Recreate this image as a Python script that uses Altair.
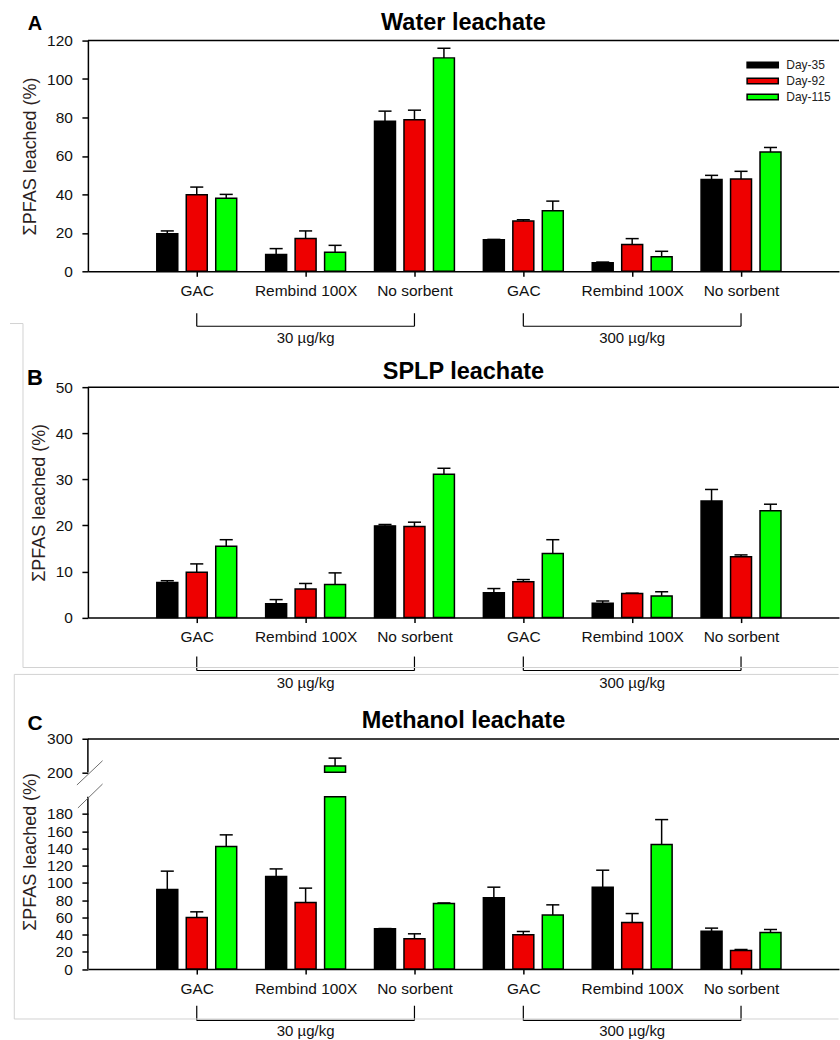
import altair as alt
import pandas as pd

# ---------------------------------------------------------------- data
sorbents = ["GAC", "Rembind 100X", "No sorbent", "GAC", "Rembind 100X", "No sorbent"]
doses = ["30 µg/kg", "300 µg/kg"]
dose_first = [1, 4]   # first sorbent position of each dose group
dose_last = [3, 6]    # last sorbent position of each dose group
days = ["Day-35", "Day-92", "Day-115"]
day_colors = ["#000000", "#ee0000", "#00ff00"]

water_mean = {
    "Day-35": [19.5, 8.7, 78.0, 16.4, 4.5, 47.8],
    "Day-92": [39.8, 17.0, 78.8, 26.1, 14.0, 48.0],
    "Day-115": [38.0, 9.9, 111.0, 31.5, 7.6, 62.0],
}
water_err = {
    "Day-35": [1.5, 3.1, 5.3, 0.2, 0.3, 2.1],
    "Day-92": [4.0, 4.0, 5.0, 0.7, 3.0, 4.0],
    "Day-115": [2.0, 3.6, 5.0, 5.0, 2.8, 2.4],
}

splp_mean = {
    "Day-35": [7.6, 3.0, 19.9, 5.4, 3.1, 25.3],
    "Day-92": [9.85, 6.2, 19.75, 7.75, 5.2, 13.2],
    "Day-115": [15.5, 7.2, 31.1, 13.9, 4.7, 23.2],
}
splp_err = {
    "Day-35": [0.4, 0.9, 0.3, 0.9, 0.5, 2.5],
    "Day-92": [1.8, 1.2, 0.95, 0.5, 0.1, 0.4],
    "Day-115": [1.4, 2.5, 1.3, 3.0, 0.9, 1.4],
}

methanol_mean = {
    "Day-35": [92.3, 107.3, 46.7, 82.6, 95.0, 44.0],
    "Day-92": [59.8, 77.2, 35.1, 39.8, 54.0, 21.6],
    "Day-115": [142.1, 219.0, 76.0, 62.6, 144.4, 42.4],
}
methanol_err = {
    "Day-35": [21.3, 8.9, 0.3, 12.4, 19.7, 3.5],
    "Day-92": [6.6, 16.7, 5.8, 3.8, 10.4, 1.1],
    "Day-115": [13.6, 23.6, 0.7, 11.9, 29.0, 3.5],
}

water_ticks = [0, 20, 40, 60, 80, 100, 120]
splp_ticks = [0, 10, 20, 30, 40, 50]
methanol_break = 200          # methanol axis is broken above this value
methanol_top = 300
methanol_ticks = [0, 20, 40, 60, 80, 100, 120, 140, 160, 180, 200.001, 300]

# ---------------------------------------------------------------- layout
FONT = "Liberation Sans"
W = 752                 # plot width (px)
X_MAX = 6.9             # x domain [0, X_MAX]; sorbents sit at 1..6
BAR_STEP = 0.2707       # distance between bars in a group (x units)
BAR_HALF = 0.0963       # half bar width (x units)
CAP_HALF = 0.06         # half error-cap width (x units)
H_A, H_B, H_C = 231, 230.7, 235.6
GAP = 116
Y_TITLE = "ΣPFAS leached (%)"

ONE = pd.DataFrame({"k": [0]})
x_scale = alt.Scale(domain=[0, X_MAX], nice=False, zero=False)
names_js = "[" + ",".join("'%s'" % s for s in sorbents) + "]"

X_AXIS = alt.Axis(values=list(range(1, 7)), labelExpr=f"{names_js}[datum.value - 1]",
                  title=None)


def table(means, errs):
    rows = []
    for k, day in enumerate(days):
        for i, (m, e) in enumerate(zip(means[day], errs[day])):
            xc = i + 1 + (k - 1) * BAR_STEP
            rows.append({"day": day, "mean": m, "top": m + e, "xc": xc,
                         "x0": xc - BAR_HALF, "x1": xc + BAR_HALF,
                         "c0": xc - CAP_HALF, "c1": xc + CAP_HALF})
    return pd.DataFrame(rows)


class Panel:
    """Shared scales/axes for every layer of one panel."""

    def __init__(self, y_scale, y_axis_obj):
        self.ys = y_scale
        self.ya = y_axis_obj

    def X(self, field):
        return alt.X(field, type="quantitative", scale=x_scale, axis=X_AXIS)

    def Y(self, field):
        return alt.Y(field, type="quantitative", scale=self.ys, axis=self.ya)

    def bars(self, df, y="mean", base="base", legend=None):
        return alt.Chart(df).mark_rect(stroke="black", strokeWidth=1.5).encode(
            x=self.X("x0"), x2="x1:Q", y=self.Y(y), y2=f"{base}:Q",
            color=alt.Color("day:N", scale=alt.Scale(domain=days, range=day_colors),
                            legend=legend),
        )

    def error_bars(self, df):
        stem = alt.Chart(df).mark_rule(color="black", strokeWidth=1.5).encode(
            x=self.X("xc"), y=self.Y("mean"), y2="top:Q")
        cap = alt.Chart(df).mark_rule(color="black", strokeWidth=1.5).encode(
            x=self.X("c0"), x2="c1:Q", y=self.Y("top"))
        return [stem, cap]

    def top_border(self, value):
        df = pd.DataFrame({"a": [0], "b": [X_MAX], "v": [value]})
        return alt.Chart(df).mark_rule(color="black", strokeWidth=1.5).encode(
            x=self.X("a"), x2="b:Q", y=self.Y("v"))

    def brackets(self, h, top, bottom, label_y):
        bdf = pd.DataFrame({"start": dose_first, "end": dose_last, "label": doses})
        bdf["mid"] = (bdf["start"] + bdf["end"]) / 2
        style = dict(color="black", strokeWidth=1.2)
        left = alt.Chart(bdf).mark_rule(**style).encode(
            x=self.X("start"), y=alt.value(h + top), y2=alt.value(h + bottom))
        right = alt.Chart(bdf).mark_rule(**style).encode(
            x=self.X("end"), y=alt.value(h + top), y2=alt.value(h + bottom))
        across = alt.Chart(bdf).mark_rule(**style).encode(
            x=self.X("start"), x2="end:Q", y=alt.value(h + bottom))
        text = alt.Chart(bdf).mark_text(font=FONT, fontSize=15, color="#111",
                                        baseline="middle", align="center").encode(
            x=self.X("mid"), y=alt.value(h + label_y), text="label:N")
        return [left, right, across, text]


def heading(title, letter, title_y, letter_y, letter_size):
    t = alt.Chart(ONE).mark_text(text=title, font=FONT, fontSize=23.5,
                                 fontWeight="bold", align="center",
                                 baseline="alphabetic", color="black").encode(
        x=alt.value(W / 2), y=alt.value(title_y))
    l = alt.Chart(ONE).mark_text(text=letter, font=FONT, fontSize=letter_size,
                                 fontWeight="bold", align="center",
                                 baseline="alphabetic", color="black").encode(
        x=alt.value(-53), y=alt.value(letter_y))
    return [t, l]


def frame_line(x, x2, y, y2):
    return alt.Chart(ONE).mark_rule(color="#d2d2d2", strokeWidth=1).encode(
        x=alt.value(x), x2=alt.value(x2), y=alt.value(y), y2=alt.value(y2))


# ---------------------------------------------------------------- panel A
wdf = table(water_mean, water_err)
wdf["base"] = 0
pa = Panel(alt.Scale(domain=[0, 120], nice=False, zero=False),
           alt.Axis(values=water_ticks, title=Y_TITLE))
legend_a = alt.Legend(
    title=None, orient="none", legendX=668.6, legendY=17.5, padding=0,
    symbolType="M-2.6,-0.46H2.6V0.46H-2.6Z", symbolSize=144,
    symbolStrokeColor="black", symbolStrokeWidth=1.5, symbolOpacity=1,
    labelFont=FONT, labelFontSize=12, labelColor="#222", labelOffset=16.6,
    rowPadding=3)
anchor = alt.Chart(ONE).mark_rule(opacity=0).encode(
    x=alt.value(-88), x2=alt.value(-87), y=alt.value(-40), y2=alt.value(-40))
panel_a = alt.layer(
    pa.bars(wdf, legend=legend_a),
    *pa.error_bars(wdf),
    pa.top_border(120),
    *heading("Water leachate", "A", -11, -11, 20),
    *pa.brackets(H_A, 42, 55, 67),
    anchor,
).properties(width=W, height=H_A)

# ---------------------------------------------------------------- panel B
sdf = table(splp_mean, splp_err)
sdf["base"] = 0
pb = Panel(alt.Scale(domain=[0, 50], nice=False, zero=False),
           alt.Axis(values=splp_ticks, title=Y_TITLE))
panel_b = alt.layer(
    pb.bars(sdf),
    *pb.error_bars(sdf),
    pb.top_border(50),
    *heading("SPLP leachate", "B", -7.7, -2, 22),
    *pb.brackets(H_B, 39, 53, 66),
    frame_line(-78, -65, -63.7, -63.7),
    frame_line(-65, -65, -63.7, 280.7),
    frame_line(-65, W - 0.5, 280.7, 280.7),
).properties(width=W, height=H_B)

# ---------------------------------------------------------------- panel C
mdf = table(methanol_mean, methanol_err)
mdf["base"] = 0
mdf["low"] = mdf["mean"].clip(upper=methanol_break)
mdf_high = mdf[mdf["mean"] > methanol_break].copy()
mdf_high["base"] = methanol_break + 0.001
pc = Panel(
    alt.Scale(domain=[0, methanol_break, methanol_break + 0.001, 315.8],
              range=[H_C, 63.0, 38.6, 0], nice=False, zero=False),
    alt.Axis(values=methanol_ticks, title=Y_TITLE, domain=False,
             labelExpr="'' + round(datum.value)"),
)
segments = pd.DataFrame({"y0": [0, methanol_break + 0.001],
                         "y1": [methanol_break, methanol_top]})
axis_lines = alt.Chart(segments).mark_rule(color="black", strokeWidth=1.5).encode(
    x=alt.value(0), y=pc.Y("y0"), y2="y1:Q")
slash_style = dict(color="#6e6e6e", strokeWidth=1)
slash_hi = alt.Chart(ONE).mark_rule(**slash_style).encode(
    x=alt.value(-11), x2=alt.value(14.7), y=alt.value(51.3), y2=alt.value(27))
slash_lo = alt.Chart(ONE).mark_rule(**slash_style).encode(
    x=alt.value(-10), x2=alt.value(14.7), y=alt.value(74.3), y2=alt.value(50.3))
panel_c = alt.layer(
    pc.bars(mdf, y="low"),
    pc.bars(mdf_high, y="mean"),
    *pc.error_bars(mdf),
    axis_lines,
    pc.top_border(methanol_top),
    slash_hi, slash_lo,
    *heading("Methanol leachate", "C", -5.4, -3.7, 21),
    *pc.brackets(H_C, 36.7, 51.4, 62.4),
    frame_line(-73.7, W - 0.5, -59.4, -59.4),
    frame_line(-73.7, -73.7, -59.4, 285.6),
    frame_line(-73.7, W - 0.5, 285.6, 285.6),
).properties(width=W, height=H_C)

chart = (
    alt.vconcat(panel_a, panel_b, panel_c, spacing=GAP, bounds="flush")
    .resolve_scale(x="independent", y="independent", color="independent")
    .properties(padding=0)
    .configure(font=FONT)
    .configure_view(stroke=None)
    .configure_axis(
        grid=False, domainColor="black", tickColor="black", domainWidth=1.5,
        tickWidth=1.5, labelColor="#111", labelFont=FONT, labelFontSize=15.5,
        labelFlush=False, labelOverlap=False, titleFont=FONT,
    )
    .configure_axisX(tickSize=5, labelPadding=7)
    .configure_axisY(tickSize=6, labelPadding=9.5, titleFontSize=18,
                     titleFontWeight="normal", titleColor="#2d1f1f",
                     titlePadding=7)
)

chart.save("out.html", embed_options={"renderer": "svg", "actions": False})
